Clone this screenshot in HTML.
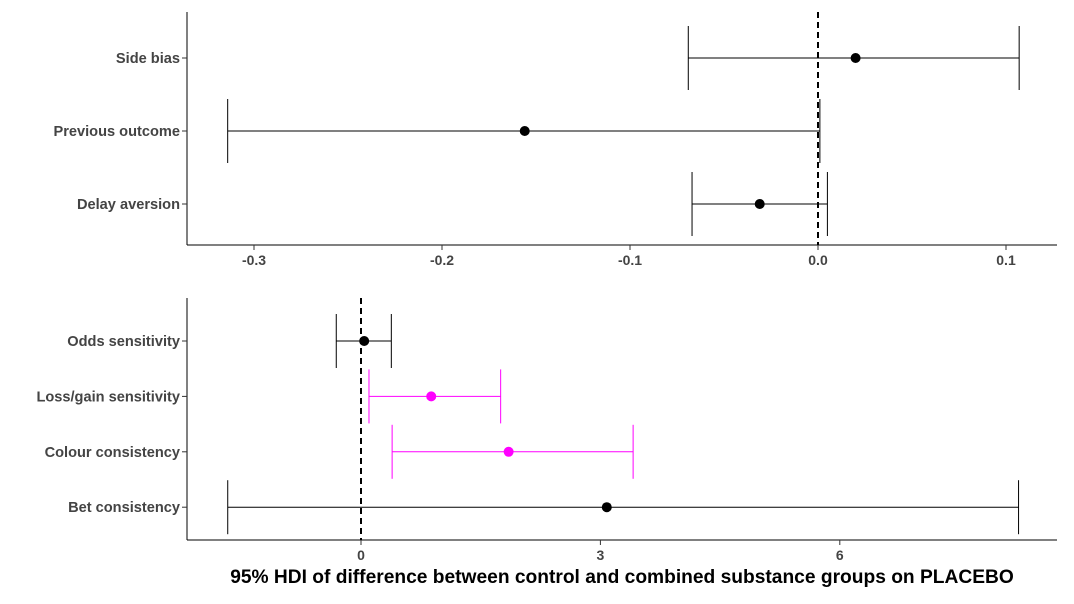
<!DOCTYPE html>
<html><head><meta charset="utf-8"><style>body{margin:0;background:#fff}svg{font-family:"Liberation Sans",sans-serif}</style></head>
<body>
<svg id="c" width="1074" height="599" viewBox="0 0 1074 599" xmlns="http://www.w3.org/2000/svg"></svg>
<script>
const topCats=["Side bias","Previous outcome","Delay aversion"];
const topLo=[-0.069,-0.314,-0.067];
const topMid=[0.020,-0.156,-0.031];
const topHi=[0.107,0.001,0.005];
const topTicks=[-0.3,-0.2,-0.1,0.0,0.1];
const topTickLabels=["-0.3","-0.2","-0.1","0.0","0.1"];
const botCats=["Odds sensitivity","Loss/gain sensitivity","Colour consistency","Bet consistency"];
const botLo=[-0.31,0.10,0.39,-1.67];
const botMid=[0.04,0.88,1.85,3.08];
const botHi=[0.38,1.75,3.41,8.24];
const botSig=[false,true,true,false];
const botTicks=[0,3,6];
const botTickLabels=["0","3","6"];
const svg=document.getElementById('c');
const NS="http://www.w3.org/2000/svg";
function mk(t,a,txt){const e=document.createElementNS(NS,t);for(const k in a)e.setAttribute(k,a[k]);if(txt!==undefined)e.textContent=txt;svg.appendChild(e);return e;}
function panel(cats,lo,mid,hi,sig,ticks,labels,x,ys,y0,y1,cap,name){
  let ax=mk('line',{x1:187,y1:y0,x2:187,y2:y1,stroke:'#000'});
  
  let bx=mk('line',{x1:187,y1:y1,x2:1057,y2:y1,stroke:'#000'});
  
  ticks.forEach((t,i)=>{mk('line',{x1:x(t),y1:y1,x2:x(t),y2:y1+5,stroke:'#333'});
    let l=mk('text',{x:x(t),y:y1+20,'text-anchor':'middle','font-size':14,'font-weight':'bold',fill:'#444'},labels[i]);
    });
  let d=mk('line',{x1:x(0),y1:y0,x2:x(0),y2:y1,stroke:'#000','stroke-width':2,'stroke-dasharray':'6,4'});
  
  cats.forEach((c,i)=>{const y=ys(i);const col=sig[i]?'#ff00ff':'#000';
    mk('line',{x1:182,y1:y,x2:187,y2:y,stroke:'#333'});
    let l=mk('text',{x:180,y:y+5,'text-anchor':'end','font-size':14.6,'font-weight':'bold',fill:'#444'},c);
    
    const g=document.createElementNS(NS,'g');svg.appendChild(g);
    
    
    [[x(lo[i]),y,x(hi[i]),y],[x(lo[i]),y-cap,x(lo[i]),y+cap],[x(hi[i]),y-cap,x(hi[i]),y+cap]].forEach(p=>{
      const e=document.createElementNS(NS,'line');e.setAttribute('x1',p[0]);e.setAttribute('y1',p[1]);e.setAttribute('x2',p[2]);e.setAttribute('y2',p[3]);e.setAttribute('stroke',col);g.appendChild(e);});
    const ci=document.createElementNS(NS,'circle');ci.setAttribute('cx',x(mid[i]));ci.setAttribute('cy',y);ci.setAttribute('r',5);ci.setAttribute('fill',col);g.appendChild(ci);
  });
}
panel(topCats,topLo,topMid,topHi,[false,false,false],topTicks,topTickLabels,v=>818+v*1880,i=>58+i*73,12,245,32,'top');
panel(botCats,botLo,botMid,botHi,botSig,botTicks,botTickLabels,v=>361+v*79.8,i=>341+i*55.4,298,540,27,'bottom');
let t=mk('text',{x:622,y:583,'text-anchor':'middle','font-size':19.2,'font-weight':'bold',fill:'#000'},"95% HDI of difference between control and combined substance groups on PLACEBO");

</script>
</body></html>
